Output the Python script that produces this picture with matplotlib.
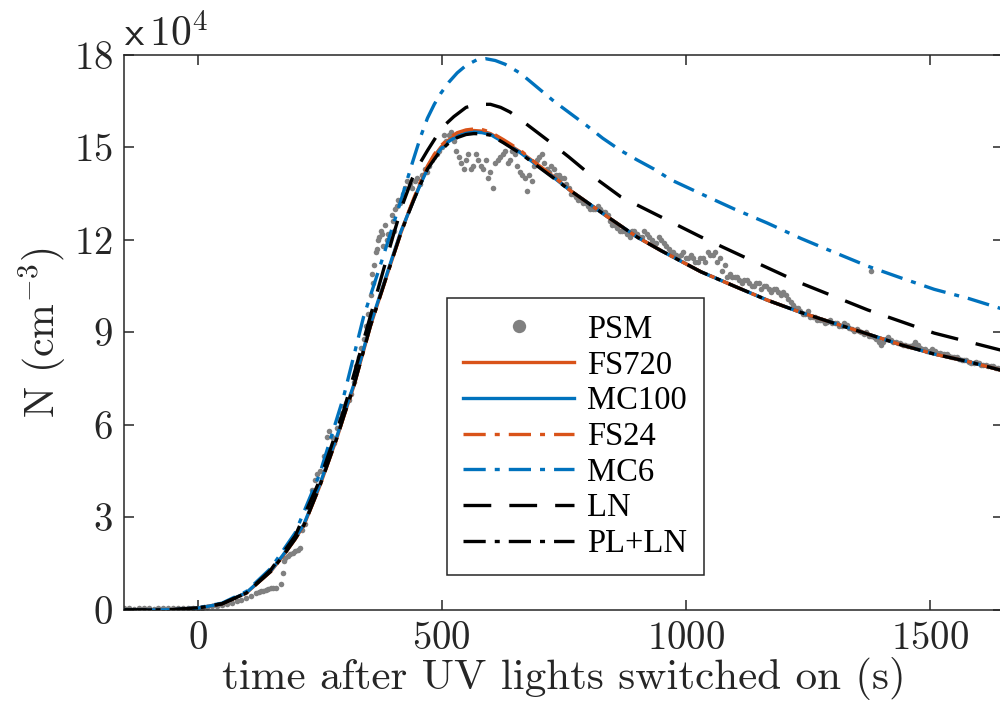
import matplotlib
matplotlib.use("Agg")
import matplotlib.pyplot as plt
from matplotlib.ticker import FuncFormatter

plt.rcParams['font.family'] = ['cmr10', 'DejaVu Serif']
plt.rcParams['mathtext.fontset'] = 'cm'
plt.rcParams['axes.formatter.use_mathtext'] = True
plt.rcParams['lines.scale_dashes'] = False

ORANGE = '#D95319'
BLUE = '#0072BD'
GREY = '#808080'
DARK = '#262626'

# measured particle number (PSM), units of 1e4 cm^-3
psm_t = [-150, -140, -130, -120, -110, -100, -90, -80, -70, -60, -50, -40, -30, -20, -10,
         0, 10, 20, 30, 40, 50, 60, 70, 80, 90, 100, 110, 120, 130, 140, 150, 160, 170,
         175, 178, 180, 190, 200, 210, 215, 220, 230, 240, 250, 260, 265, 270, 280, 290,
         300, 310, 320, 330, 340, 350, 355, 360, 365, 370, 375, 380, 385, 390, 395, 400,
         405, 410, 420, 430, 440, 450, 460, 470, 480, 490, 500, 510, 515, 520, 525, 530,
         540, 550, 560, 570, 580, 590, 600, 605, 610, 620, 630, 640, 650, 660, 670, 675,
         680, 690, 700, 710, 720, 730, 740, 750, 760, 770, 780, 790, 800, 810, 820, 830,
         840, 850, 860, 870, 880, 890, 900, 910, 920, 930, 940, 950, 960, 970, 980, 990,
         1000, 1010, 1020, 1030, 1040, 1050, 1060, 1070, 1080, 1090, 1100, 1110, 1120,
         1130, 1140, 1150, 1160, 1170, 1180, 1190, 1200, 1210, 1220, 1230, 1240, 1250,
         1260, 1270, 1280, 1290, 1300, 1310, 1320, 1330, 1340, 1350, 1360, 1370, 1380,
         1390, 1400, 1410, 1420, 1430, 1440, 1450, 1460, 1470, 1480, 1490, 1500, 1510,
         1520, 1530, 1540, 1550, 1560, 1570, 1580, 1590, 1600, 1610, 1620, 1630, 1640]
psm_n = [0.05, 0.06, 0.04, 0.05, 0.06, 0.05, 0.04, 0.05, 0.06, 0.05, 0.05, 0.06, 0.05, 0.06, 0.05,
         0.06, 0.08, 0.1, 0.12, 0.14, 0.17, 0.2, 0.24, 0.28, 0.33, 0.4, 0.45, 0.55, 0.6, 0.65, 0.7, 0.72, 0.85,
         1.2, 1.6, 1.7, 1.8, 1.9, 2.0, 2.6, 2.8, 3.5, 4.2, 4.5, 5.0, 5.6, 5.8, 5.4, 6.2,
         6.6, 6.8, 7.4, 8.2, 8.8, 9.6, 10.2, 10.6, 11.6, 12.0, 12.3, 11.8, 12.5, 12.2, 12.0, 12.6,
         13.0, 13.3, 13.5, 13.9, 13.7, 14.0, 14.1, 14.2, 14.6, 14.8, 15.0, 15.2, 15.4, 15.5, 15.2, 14.9,
         14.5, 14.6, 14.3, 14.8, 14.4, 14.6, 14.2, 13.7, 14.5, 14.7, 14.9, 14.6, 14.8, 14.2, 14.0, 13.6,
         14.1, 14.4, 14.7, 14.5, 14.2, 14.3, 14.1, 14.0, 13.7, 13.5, 13.3, 13.2, 13.1, 13.0, 13.1, 12.9,
         12.8, 12.5, 12.4, 12.3, 12.2, 12.3, 12.2, 12.1, 12.2, 12.0, 11.9, 12.0, 11.8, 11.6, 11.5, 11.5,
         11.4, 11.5, 11.3, 11.4, 11.3, 11.5, 11.6, 11.4, 11.2, 10.9, 10.8, 10.7, 10.7,
         10.6, 10.5, 10.6, 10.5, 10.4, 10.4, 10.3, 10.3, 10.1, 9.9, 9.8, 9.6, 9.7,
         9.5, 9.4, 9.4, 9.35, 9.3, 9.3, 9.2, 9.25, 9.1, 9.1, 9.0, 9.0, 8.9,
         8.8, 8.6, 8.8, 8.75, 8.7, 8.65, 8.6, 8.55, 8.7, 8.5, 8.45, 8.4, 8.4,
         8.35, 8.3, 8.25, 8.2, 8.15, 8.1, 8.05, 8.0, 8.0, 7.95, 7.9, 7.9, 7.85]
# extra scattered PSM readings (rise and plateau spread, outlier)
psm_t2 = [125, 135, 145, 155, 185, 195, 205, 235, 245, 275, 285, 295, 305, 315, 325, 335,
          345, 358, 362, 368, 372, 378, 388, 398, 402, 408, 415, 425, 435, 445, 455, 465,
          475, 485, 495, 505, 535, 545, 555, 565, 575, 585, 595, 615, 625, 635, 645, 655,
          665, 685, 695, 705, 715, 725, 735, 745, 755, 765, 775, 785, 795, 805, 815, 825,
          835, 845, 855, 865, 875, 885, 895, 905, 915, 925, 935, 945, 955, 965, 975, 985,
          995, 1005, 1015, 1025, 1035, 1045, 1055, 1065, 1075, 1085, 1095, 1105, 1115, 1125,
          1135, 1145, 1155, 1165, 1175, 1185, 1195, 1205, 1215, 1225, 1235, 1245, 1255, 1265,
          1275, 1285, 1295, 1305, 1315, 1325, 1335, 1345, 1355, 1365, 1375, 1379, 1385, 1395,
          1405, 1415, 1425, 1435, 1445, 1455, 1465, 1475, 1485, 1495, 1505, 1515, 1525, 1535,
          1545, 1555, 1565, 1575, 1585, 1595, 1605, 1615, 1625, 1635, 1645]
psm_n2 = [0.58, 0.62, 0.68, 0.7, 1.75, 1.85, 1.95, 3.9, 4.4, 5.6, 5.9, 6.4, 6.7, 7.0, 7.9, 8.5,
          9.2, 10.9, 11.2, 11.7, 12.1, 12.2, 12.0, 12.8, 12.3, 13.1, 13.2, 13.7, 13.8, 13.9, 13.8, 14.3,
          14.4, 14.7, 14.9, 15.4, 14.7, 14.3, 14.8, 14.4, 14.6, 14.3, 14.0, 14.6, 14.8, 14.5, 14.9, 14.4,
          14.1, 13.9, 14.6, 14.8, 14.3, 14.4, 14.1, 14.0, 13.8, 13.5, 13.4, 13.3, 13.2, 13.0, 13.0, 13.0,
          12.9, 12.6, 12.5, 12.3, 12.3, 12.1, 12.3, 12.1, 12.3, 12.1, 11.9, 12.1, 11.9, 11.7, 11.6, 11.4,
          11.6, 11.4, 11.4, 11.3, 11.4, 11.6, 11.5, 11.3, 11.0, 10.8, 10.8, 10.8, 10.6, 10.7,
          10.5, 10.6, 10.4, 10.5, 10.3, 10.4, 10.2, 10.2, 10.0, 9.8, 9.7, 9.6, 9.5, 9.5,
          9.4, 9.3, 9.4, 9.3, 9.2, 9.3, 9.15, 9.05, 9.05, 8.95, 8.9, 11.0, 8.85, 8.7,
          8.7, 8.85, 8.7, 8.65, 8.6, 8.55, 8.6, 8.6, 8.45, 8.4, 8.45, 8.35, 8.3, 8.3,
          8.2, 8.2, 8.1, 8.1, 8.0, 8.05, 7.95, 7.95, 7.9, 7.85, 7.8]

# model curves, units of 1e4 cm^-3
t_model = [-150, -100, -50, 0, 50, 100, 150, 175, 200, 218, 250, 286, 300, 320, 354, 389, 416,
           430, 443, 457, 471, 485, 498, 515, 532, 550, 566, 583, 600, 627, 662, 696, 730, 764,
           800, 840, 900, 950, 1031, 1100, 1167, 1236, 1304, 1373, 1441, 1509, 1580, 1645, 1670]
fs720 = [0.0, 0.0, 0.01, 0.06, 0.2, 0.55, 1.25, 1.75, 2.3, 2.75, 4.0, 5.6, 6.3, 7.25, 9.2, 10.9, 12.2,
         12.8, 13.3, 13.85, 14.35, 14.72, 15.0, 15.25, 15.42, 15.52, 15.55, 15.53, 15.45, 15.2, 14.85,
         14.45, 14.05, 13.6, 13.2, 12.75, 12.1, 11.65, 10.97, 10.5, 10.05, 9.65, 9.3, 8.95, 8.6, 8.3,
         8.05, 7.78, 7.7]
mc100 = [0.0, 0.0, 0.01, 0.06, 0.2, 0.56, 1.27, 1.78, 2.33, 2.78, 4.05, 5.65, 6.35, 7.3, 9.25, 10.95, 12.25,
         12.8, 13.3, 13.82, 14.3, 14.66, 14.95, 15.2, 15.37, 15.47, 15.5, 15.48, 15.42, 15.17, 14.82,
         14.42, 14.02, 13.6, 13.2, 12.75, 12.1, 11.65, 10.97, 10.5, 10.05, 9.65, 9.3, 8.95, 8.6, 8.3,
         8.05, 7.78, 7.7]
fs24 = [0.0, 0.0, 0.01, 0.06, 0.2, 0.55, 1.25, 1.75, 2.3, 2.75, 4.0, 5.6, 6.3, 7.25, 9.2, 10.9, 12.2,
        12.82, 13.35, 13.9, 14.4, 14.78, 15.05, 15.3, 15.48, 15.57, 15.6, 15.58, 15.5, 15.25, 14.9,
        14.45, 14.05, 13.6, 13.2, 12.75, 12.1, 11.65, 10.97, 10.5, 10.05, 9.65, 9.3, 8.95, 8.6, 8.3,
        8.05, 7.78, 7.7]
pl_ln = [0.0, 0.0, 0.01, 0.06, 0.2, 0.55, 1.25, 1.75, 2.3, 2.75, 4.0, 5.6, 6.3, 7.25, 9.2, 10.9, 12.2,
         12.78, 13.3, 13.82, 14.3, 14.62, 14.9, 15.15, 15.32, 15.42, 15.45, 15.44, 15.4, 15.15, 14.8,
         14.4, 14.0, 13.6, 13.2, 12.75, 12.1, 11.65, 10.97, 10.5, 10.05, 9.65, 9.3, 8.95, 8.6, 8.3,
         8.05, 7.78, 7.7]

t_mc6 = [-150, -100, -50, 0, 50, 100, 150, 200, 250, 299, 340, 381, 400, 416, 430, 440, 457, 471,
         485, 498, 515, 532, 550, 573, 590, 610, 630, 662, 696, 730, 764, 798, 830, 867, 900, 935,
         970, 1031, 1100, 1167, 1236, 1304, 1373, 1441, 1509, 1580, 1645, 1670]
mc6 = [0.0, 0.0, 0.01, 0.07, 0.22, 0.6, 1.35, 2.5, 4.4, 6.9, 9.5, 11.5, 12.45, 13.25, 13.98, 14.5, 15.35,
       15.95, 16.4, 16.75, 17.12, 17.42, 17.66, 17.85, 17.88, 17.82, 17.7, 17.4, 16.95, 16.5, 16.1, 15.7,
       15.3, 14.9, 14.6, 14.3, 13.95, 13.5, 13.0, 12.55, 12.05, 11.6, 11.15, 10.77, 10.4, 10.1, 9.78, 9.68]

t_ln = [-150, -100, -50, 0, 50, 100, 150, 200, 250, 300, 350, 400, 420, 440, 456, 471, 491, 508,
        525, 550, 573, 600, 621, 640, 662, 716, 760, 798, 867, 949, 1031, 1133, 1236, 1373, 1509,
        1645, 1670]
ln = [0.0, 0.0, 0.01, 0.07, 0.2, 0.55, 1.3, 2.4, 4.2, 6.5, 9.3, 12.1, 13.15, 14.0, 14.5, 14.9, 15.4, 15.75,
      16.0, 16.3, 16.4, 16.4, 16.3, 16.15, 15.9, 15.25, 14.7, 14.2, 13.4, 12.75, 12.1, 11.35, 10.6, 9.73,
      8.98, 8.43, 8.33]

fig = plt.figure(figsize=(10.0, 7.13), dpi=100)
ax = fig.add_axes([0.1243, 0.1445, 0.8787, 0.7784])

lw = 2.4
dashdot = (0, (16, 6.5, 3.6, 6.5))
ax.plot(psm_t, psm_n, 'o', color=GREY, ms=4.0, mec='none', label='PSM', zorder=1)
ax.plot(psm_t2, psm_n2, 'o', color=GREY, ms=4.0, mec='none', zorder=1)
ax.plot(t_model, fs720, '-', color=ORANGE, lw=lw, label='FS720', zorder=2)
ax.plot(t_model, mc100, '-', color=BLUE, lw=lw, label='MC100', zorder=3)
ax.plot(t_model, fs24, color=ORANGE, lw=lw, ls=dashdot, label='FS24', zorder=4)
ax.plot(t_mc6, mc6, color=BLUE, lw=lw, ls=dashdot, label='MC6', zorder=5)
ax.plot(t_ln, ln, color='black', lw=lw, ls=(0, (20, 13)), label='LN', zorder=6)
ax.plot(t_model, pl_ln, color='black', lw=lw, ls=dashdot, label='PL+LN', zorder=7)

ax.set_xlim(-150, 1650)
ax.set_ylim(0, 18)
ax.set_xticks([0, 500, 1000, 1500])
ax.set_yticks([0, 3, 6, 9, 12, 15, 18])
fmt = FuncFormatter(lambda v, p: f'${v:g}$')
ax.xaxis.set_major_formatter(fmt)
ax.yaxis.set_major_formatter(fmt)
ax.tick_params(direction='in', length=7, width=1.1, colors=DARK, labelsize=28,
               top=True, right=True, pad=8)
for s in ax.spines.values():
    s.set_color(DARK)
    s.set_linewidth(1.1)

ax.set_xlabel('time after UV lights switched on (s)', fontsize=31, color=DARK, labelpad=0)
ax.set_ylabel(r'N (cm$^{-3}$)', fontsize=30, color=DARK, labelpad=4)
ax.text(0.0, 1.0, r'$\mathsf{x}\,10^{4}$', transform=ax.transAxes, fontsize=30,
        color=DARK, ha='left', va='bottom')

leg = ax.legend(loc='upper left', bbox_to_anchor=(447 / 1000, 1 - 298 / 713),
                bbox_transform=fig.transFigure, borderaxespad=0, fancybox=False,
                framealpha=1, edgecolor=DARK, numpoints=1, markerscale=2.4,
                handlelength=3.4, handletextpad=0.4, labelspacing=0.16, borderpad=0.5,
                prop={'family': 'Liberation Serif', 'size': 23.5})
leg.get_frame().set_linewidth(1.1)
leg.set_zorder(10)

fig.savefig('out.png', dpi=100)
